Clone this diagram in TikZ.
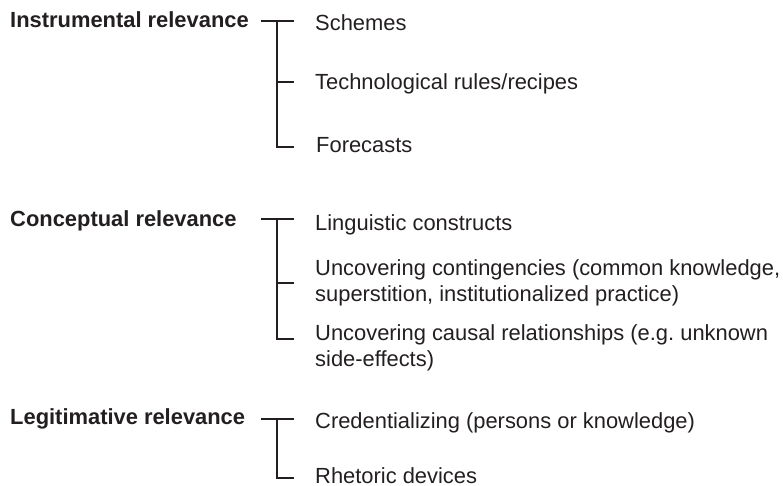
\documentclass[tikz,border=0pt]{standalone}
\usepackage{fontspec}
\setmainfont{Liberation Sans}
\usepackage{tikz}
\usetikzlibrary{positioning}

\definecolor{inkdark}{RGB}{35,31,32}

\begin{document}
\begin{tikzpicture}[
  x = 1pt,
  y = -1pt,
  head/.style = {
    anchor = base west,
    inner sep = 0pt,
    text = inkdark,
    font = \fontsize{21.9}{26}\selectfont\bfseries,
  },
  item/.style = {
    anchor = base west,
    inner sep = 0pt,
    align = left,
    text = inkdark,
    font = \fontsize{21.9}{26}\selectfont,
  },
  bracket/.style = {
    draw = inkdark,
    line width = 1.3pt,
  },
]

  \useasboundingbox (0,0) rectangle (783,485);

  % instrumental relevance
  \node[head] (ir) at (10,27.5) {Instrumental relevance};
  \node[item] (ir-a) at (315,30) {Schemes};
  \node[item] (ir-b) at (315,89) {Technological rules/recipes};
  \node[item] (ir-c) at (316,152) {Forecasts};
  \coordinate (ir-l) at (261,21);
  \coordinate (ir-s) at (277,21);
  \coordinate (ir-1) at (294,21);
  \coordinate (ir-2) at (294,82);
  \coordinate (ir-3) at (294,147);
  \draw[bracket] (ir-l) -- (ir-1);
  \draw[bracket] (ir-s) |- (ir-3);
  \draw[bracket] (ir-s |- ir-2) -- (ir-2);

  % conceptual relevance (multi-line items sit on their last baseline)
  \node[head] (cr) at (10,226) {Conceptual relevance};
  \node[item] (cr-a) at (315,230) {Linguistic constructs};
  \node[item] (cr-b) at (315,301) {Uncovering contingencies (common knowledge,\\superstition, institutionalized practice)};
  \node[item] (cr-c) at (315,366) {Uncovering causal relationships (e.g.\ unknown\\side-effects)};
  \coordinate (cr-l) at (261,219);
  \coordinate (cr-s) at (277,219);
  \coordinate (cr-1) at (294,219);
  \coordinate (cr-2) at (294,283);
  \coordinate (cr-3) at (294,339);
  \draw[bracket] (cr-l) -- (cr-1);
  \draw[bracket] (cr-s) |- (cr-3);
  \draw[bracket] (cr-s |- cr-2) -- (cr-2);

  % legitimative relevance
  \node[head] (lr) at (10,424) {Legitimative relevance};
  \node[item] (lr-a) at (315,428) {Credentializing (persons or knowledge)};
  \node[item] (lr-b) at (315,483) {Rhetoric devices};
  \coordinate (lr-l) at (261,419);
  \coordinate (lr-s) at (277,419);
  \coordinate (lr-1) at (294,419);
  \coordinate (lr-2) at (294,478);
  \draw[bracket] (lr-l) -- (lr-1);
  \draw[bracket] (lr-s) |- (lr-2);

\end{tikzpicture}
\end{document}
